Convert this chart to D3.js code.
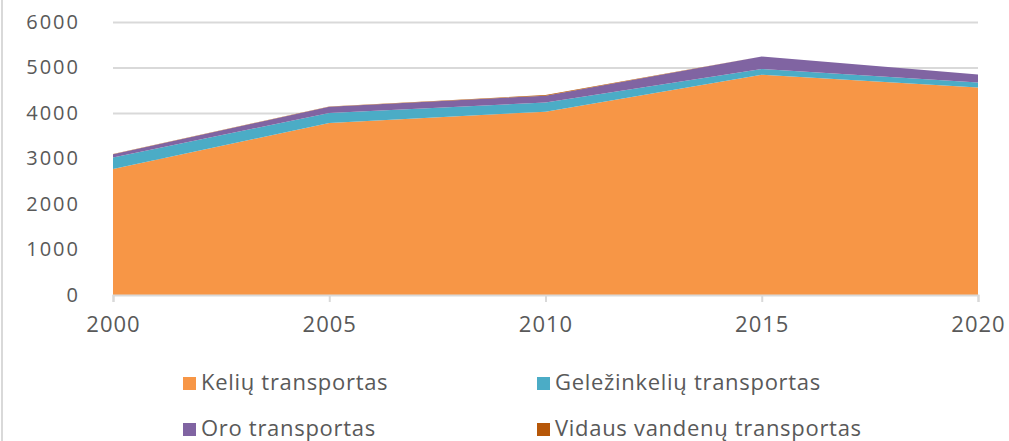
<!DOCTYPE html>
<html>
<head>
<meta charset="utf-8">
<script src="https://cdn.jsdelivr.net/npm/d3@7"></script>
<style>
  body { margin: 0; background: #fff; }
  svg { display: block; }
</style>
</head>
<body>
<div id="chart"></div>
<script>
// Data
const years = [2000, 2005, 2010, 2015, 2020];
const road = [2770, 3780, 4030, 4840, 4560];
const rail = [250, 220, 200, 125, 110];
const air = [75, 138, 150, 275, 175];
const inlandWater = [2, 5, 15, 3, 1];
const seriesNames = ["Kelių transportas", "Geležinkelių transportas", "Oro transportas", "Vidaus vandenų transportas"];
const seriesColors = ["#F79646", "#4BACC6", "#8064A2", "#B65708"];
const yTicks = [0, 1000, 2000, 3000, 4000, 5000, 6000];

const width = 1009;
const height = 441;
const margin = {top: 22, right: 31, bottom: 146, left: 113};

const svg = d3.select("#chart").append("svg")
    .attr("width", width)
    .attr("height", height);

// Chart frame edge on the left
svg.append("line")
    .attr("x1", 2).attr("x2", 2)
    .attr("y1", 0).attr("y2", height)
    .attr("stroke", "#d9d9d9")
    .attr("stroke-width", 2);

const x = d3.scaleLinear()
    .domain([2000, 2020])
    .range([margin.left, width - margin.right]);

const y = d3.scaleLinear()
    .domain([0, 6000])
    .range([height - margin.bottom, margin.top]);

// Gridlines
svg.append("g")
    .attr("transform", `translate(${margin.left},0)`)
    .call(d3.axisLeft(y).tickValues(yTicks.slice(1)).tickSize(-(x.range()[1] - x.range()[0])).tickFormat(""))
    .call(g => g.select(".domain").remove())
    .call(g => g.selectAll("line").attr("stroke", "#d9d9d9").attr("stroke-width", 2));

// Stack the series
const table = years.map((yr, i) => ({
    year: yr,
    s0: road[i],
    s1: rail[i],
    s2: air[i],
    s3: inlandWater[i]
}));
const stack = d3.stack().keys(["s0", "s1", "s2", "s3"]);
const stacked = stack(table);

const area = d3.area()
    .x(d => x(d.data.year))
    .y0(d => y(d[0]))
    .y1(d => y(d[1]));

svg.append("g")
    .selectAll("path")
    .data(stacked)
    .enter()
    .append("path")
    .attr("d", area)
    .attr("fill", (d, i) => seriesColors[i]);

// X axis
const xAxis = svg.append("g")
    .attr("transform", `translate(0,${y(0)})`)
    .call(d3.axisBottom(x).tickValues(years).tickFormat(d3.format("d")).tickSize(7).tickPadding(14));
xAxis.select(".domain").attr("stroke", "#d9d9d9").attr("stroke-width", 2);
xAxis.selectAll(".tick line").attr("stroke", "#d9d9d9").attr("stroke-width", 2);
xAxis.selectAll(".tick text")
    .attr("fill", "#595959")
    .style("font-family", "'Open Sans', sans-serif")
    .style("font-size", "22px")
    .style("letter-spacing", "1px");

// Y axis labels
const yAxis = svg.append("g")
    .attr("transform", `translate(${margin.left},0)`)
    .call(d3.axisLeft(y).tickValues(yTicks).tickFormat(d3.format("d")).tickSize(0).tickPadding(33));
yAxis.select(".domain").remove();
yAxis.selectAll(".tick text")
    .attr("fill", "#595959")
    .style("font-family", "'Open Sans', sans-serif")
    .style("font-size", "20px")
    .style("letter-spacing", "2px");

// Legend
const legendPos = [[183, 377], [537, 377], [183, 423], [537, 423]];
const legend = svg.append("g")
    .selectAll("g")
    .data(seriesNames)
    .enter()
    .append("g")
    .attr("transform", (d, i) => `translate(${legendPos[i][0]},${legendPos[i][1]})`);

legend.append("rect")
    .attr("width", 13)
    .attr("height", 13)
    .attr("fill", (d, i) => seriesColors[i]);

legend.append("text")
    .attr("x", 18)
    .attr("y", 13)
    .attr("fill", "#595959")
    .style("font-family", "'Open Sans', sans-serif")
    .style("font-size", "22px")
    .style("letter-spacing", "0.7px")
    .text(d => d);
</script>
</body>
</html>
